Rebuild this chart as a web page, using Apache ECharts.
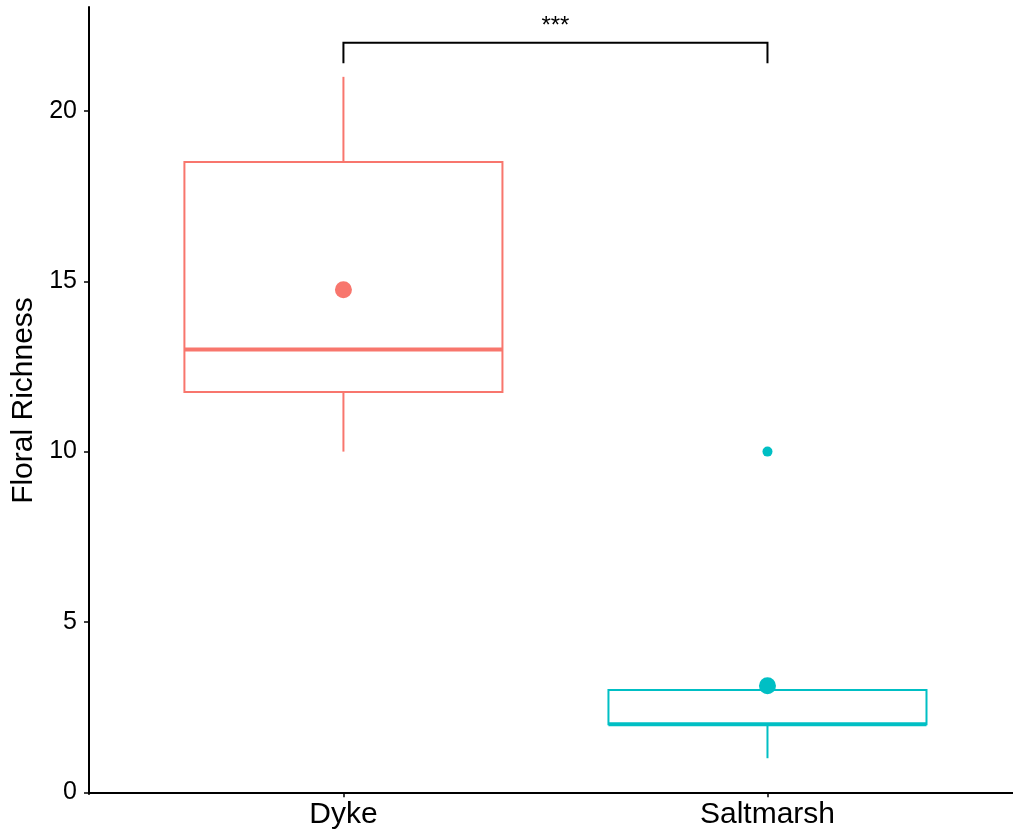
<!DOCTYPE html>
<html>
<head>
<meta charset="utf-8">
<title>Floral Richness</title>
<script src="https://cdn.jsdelivr.net/npm/echarts@6/dist/echarts.min.js"></script>
<style>
  html, body { margin: 0; padding: 0; background: #fff; }
  #chart { width: 1013px; height: 834px; }
</style>
</head>
<body>
<div id="chart"></div>
<script>
// 分组与箱线图统计量
const groups = ['Dyke', 'Saltmarsh'];
const whiskerLow = [10, 1];
const q1 = [11.75, 2];
const median = [13, 2];
const q3 = [18.5, 3];
const whiskerHigh = [21, 3];
const means = [14.75, 3.13];
// 离群点 [组序号, 值]
const outliers = [[2, 10]];
// 显著性标注
const bracket = { from: 1, to: 2, y: 22, tip: 21.4, label: '***' };
const yTicks = [0, 5, 10, 15, 20];

const colors = ['#F8766D', '#00BFC4'];
const FONT = 'Liberation Sans, Arial, Helvetica, sans-serif';

const boxData = groups.map((g, i) => [i + 1, whiskerLow[i], q1[i], median[i], q3[i], whiskerHigh[i]]);
const meanData = groups.map((g, i) => ({ value: [i + 1, means[i]], itemStyle: { color: colors[i] } }));
const outlierData = outliers.map(o => ({ value: o, itemStyle: { color: colors[o[0] - 1] } }));

// 绘制箱体
function renderBox(params, api) {
    const x = api.value(0);
    const color = colors[params.dataIndex];
    const half = api.size([0.75, 0])[0] / 2;
    const pLow = api.coord([x, api.value(1)]);
    const pQ1 = api.coord([x, api.value(2)]);
    const pMed = api.coord([x, api.value(3)]);
    const pQ3 = api.coord([x, api.value(4)]);
    const pHigh = api.coord([x, api.value(5)]);
    const lineStyle = { stroke: color, lineWidth: 2, fill: null };
    return {
        type: 'group',
        children: [
            { type: 'line', shape: { x1: pLow[0], y1: pLow[1], x2: pQ1[0], y2: pQ1[1] }, style: lineStyle },
            { type: 'line', shape: { x1: pQ3[0], y1: pQ3[1], x2: pHigh[0], y2: pHigh[1] }, style: lineStyle },
            { type: 'rect', shape: { x: pQ3[0] - half, y: pQ3[1], width: half * 2, height: pQ1[1] - pQ3[1] },
              style: { stroke: color, lineWidth: 2, fill: '#fff' } },
            { type: 'line', shape: { x1: pMed[0] - half, y1: pMed[1], x2: pMed[0] + half, y2: pMed[1] },
              style: { stroke: color, lineWidth: 4 } }
        ]
    };
}

// 绘制显著性括号
function renderBracket(params, api) {
    const a = api.coord([bracket.from, bracket.tip]);
    const b = api.coord([bracket.from, bracket.y]);
    const c = api.coord([bracket.to, bracket.y]);
    const d = api.coord([bracket.to, bracket.tip]);
    return {
        type: 'group',
        children: [
            { type: 'polyline', shape: { points: [a, b, c, d] }, style: { stroke: '#000', lineWidth: 2, fill: null } },
            { type: 'text', x: (b[0] + c[0]) / 2, y: b[1] - 4,
              style: { text: bracket.label, fill: '#000', font: '24px ' + FONT, align: 'center', verticalAlign: 'bottom' } }
        ]
    };
}

const chart = echarts.init(document.getElementById('chart'));
chart.setOption({
    animation: false,
    backgroundColor: '#fff',
    grid: { left: 89, right: 0, top: 7, bottom: 40 },
    xAxis: {
        type: 'value',
        min: 0.4,
        max: 2.579,
        splitLine: { show: false },
        axisLine: { show: true, lineStyle: { color: '#000', width: 2 } },
        axisTick: { show: true, customValues: [1, 2], length: 5, lineStyle: { color: '#000', width: 1.5 } },
        axisLabel: {
            customValues: [1, 2],
            formatter: v => groups[Math.round(v) - 1] || '',
            color: '#000', fontSize: 30, fontFamily: FONT, margin: 6
        }
    },
    yAxis: {
        type: 'value',
        min: -0.05,
        max: 23.05,
        name: 'Floral Richness',
        nameLocation: 'middle',
        nameRotate: 90,
        nameGap: 43,
        nameTextStyle: { color: '#000', fontSize: 30, fontFamily: FONT },
        splitLine: { show: false },
        axisLine: { show: true, lineStyle: { color: '#000', width: 2 } },
        axisTick: { show: true, customValues: yTicks, length: 5, lineStyle: { color: '#000', width: 1.5 } },
        axisLabel: { customValues: yTicks, color: '#000', fontSize: 25, fontFamily: FONT, margin: 12 }
    },
    series: [
        { type: 'custom', name: 'box', renderItem: renderBox, data: boxData, z: 2 },
        { type: 'scatter', name: 'outlier', data: outlierData, symbolSize: 10, itemStyle: { opacity: 1 }, z: 3 },
        { type: 'scatter', name: 'mean', data: meanData, symbolSize: 17, itemStyle: { opacity: 1 }, z: 4 },
        { type: 'custom', name: 'bracket', renderItem: renderBracket, data: [[bracket.from, bracket.y]], clip: false, z: 5 }
    ]
});
</script>
</body>
</html>
